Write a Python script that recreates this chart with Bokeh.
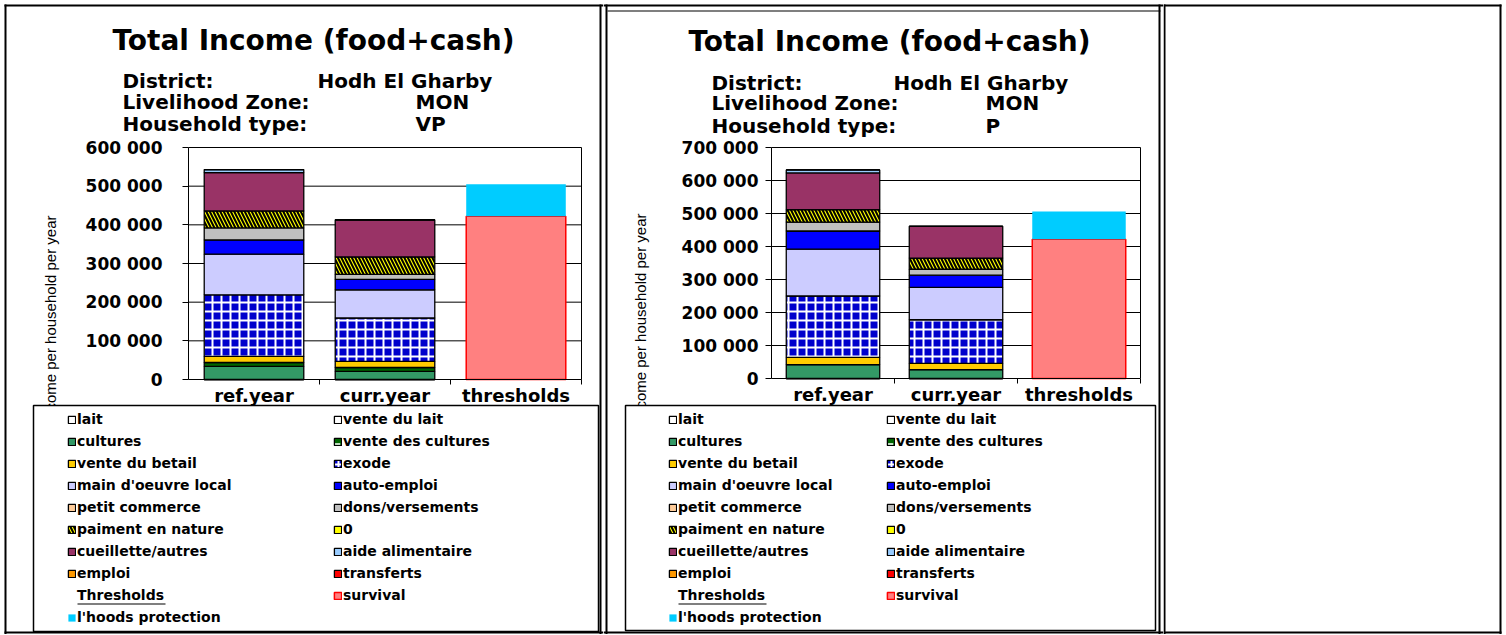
import math
from bokeh.plotting import figure
from bokeh.models import (ColumnDataSource, Range1d, FixedTicker, Label,
                          BoxAnnotation, Legend, LegendItem)
from bokeh.layouts import row
from bokeh.embed import file_html
from bokeh.resources import INLINE

# ---------------- data ----------------
categories = ["ref.year", "curr.year"]
threshold_category = ["thresholds"]
all_categories = ["ref.year", "curr.year", "thresholds"]

series = ["lait", "vente du lait", "cultures", "vente des cultures", "vente du betail",
          "exode", "main d'oeuvre local", "auto-emploi", "petit commerce",
          "dons/versements", "paiment en nature", "0", "cueillette/autres",
          "aide alimentaire", "emploi", "transferts"]
threshold_series = ["survival", "l'hoods protection"]

# Household type VP
vp_ref = [0, 0, 34000, 10000, 16000, 159000, 105000, 37000, 0, 31000, 44000, 0, 99000, 8000, 0, 0]
vp_curr = [0, 0, 21000, 10000, 16000, 112000, 73000, 27000, 0, 13000, 45000, 0, 96000, 0, 0, 0]
vp_survival = [422000]
vp_protection = [83000]
vp_ticks = [0, 100000, 200000, 300000, 400000, 500000, 600000]
vp_tick_labels = ["0", "100 000", "200 000", "300 000", "400 000", "500 000", "600 000"]

# Household type P
p_ref = [0, 0, 42000, 0, 22000, 186000, 142000, 55000, 0, 27000, 38000, 0, 111000, 9000, 0, 0]
p_curr = [0, 0, 27000, 0, 19000, 132000, 98000, 37000, 0, 18000, 34000, 0, 96000, 0, 0, 0]
p_survival = [422000]
p_protection = [84000]
p_ticks = [0, 100000, 200000, 300000, 400000, 500000, 600000, 700000]
p_tick_labels = ["0", "100 000", "200 000", "300 000", "400 000", "500 000", "600 000", "700 000"]

title_text = "Total Income (food+cash)"
district_text = ["District:", "Hodh El Gharby"]
zone_text = ["Livelihood Zone:", "MON"]
hh_label = "Household type:"
y_label_text = "Income per household per year"
thresholds_heading = "Thresholds"

# ---------------- styles ----------------
fill_colors = ["#FFFFFF", "#FFFFFF", "#339966", "#006600", "#FFCC00", "#0000CC", "#CCCCFF",
               "#0000FF", "#FFCC99", "#C0C0C0", "#FFFF00", "#FFFF00", "#993366", "#99CCFF",
               "#FF9900", "#FF0000"]
hatch_patterns = ["blank", "blank", "blank", "horizontal_dash", "blank", "cross", "blank",
                  "blank", "blank", "blank", "left_diagonal_line", "blank", "blank", "blank",
                  "blank", "blank"]
hatch_colors = ["white"] * 10 + ["black"] + ["white"] * 5
hatch_scales = [8, 8, 8, 12, 8, 9, 8, 8, 8, 8, 7, 8, 8, 8, 8, 8]
hatch_weights = [1, 1, 1, 1.5, 1, 2, 1, 1, 1, 1, 2, 1, 1, 1, 1, 1]

H = 634
FONT = "DejaVu Sans"


def build_panel(ref_vals, curr_vals, surv, prot, ticks, tick_labels, hh_type, g):
    W, fl, fw, ft, fh = g["W"], g["fl"], g["fw"], g["ft"], g["fh"]
    ncat = len(all_categories)
    ymax = ticks[-1]
    unit = fw / ncat

    def X(cx):  # canvas pixel -> data x
        return (cx - fl) / unit

    def Y(cy):  # canvas pixel -> data y
        return (ft + fh - cy) * ymax / fh

    p = figure(width=W, height=H, x_range=Range1d(X(0), X(W)), y_range=Range1d(Y(H), Y(0)),
               min_border=0, toolbar_location=None, output_backend="svg", title=None)
    p.background_fill_color = "white"
    p.border_fill_color = "white"
    p.outline_line_color = None

    # grid lines and right frame edge (under the bars)
    p.segment(x0=0, x1=ncat, y0=ticks[1:], y1=ticks[1:], line_color="black",
              line_width=1, level="underlay")
    p.segment(x0=[ncat], x1=[ncat], y0=[0], y1=[ymax], line_color="black",
              line_width=1, level="underlay")

    xpos = [i + 0.5 for i in range(len(categories))]
    src = ColumnDataSource(data={"cat": categories, "x": xpos,
                                 **{s: [ref_vals[i], curr_vals[i]] for i, s in enumerate(series)}})
    rs = p.vbar_stack(series, x="x", width=0.76, source=src,
                      fill_color=fill_colors, line_color="black", line_width=1.3,
                      hatch_pattern=hatch_patterns, hatch_color=hatch_colors,
                      hatch_scale=hatch_scales, hatch_weight=hatch_weights)
    tsrc = ColumnDataSource(data={"cat": threshold_category,
                                  "x": [len(categories) + 0.5],
                                  threshold_series[0]: surv, threshold_series[1]: prot})
    trs = p.vbar_stack(threshold_series, x="x", width=0.76, source=tsrc,
                       fill_color=["#FF8080", "#00CCFF"], line_color=["#FF0000", "#00CCFF"],
                       line_alpha=[1, 0], line_width=1.5)
    dummy = p.vbar(x=[], top=[], width=0.5, fill_alpha=0, line_alpha=0)

    # axes at fixed locations inside the frame
    yt = FixedTicker(ticks=ticks)
    ya = p.yaxis[0]
    ya.fixed_location = 0
    ya.bounds = (0, ymax)
    ya.ticker = yt
    ya.major_label_overrides = dict(zip(ticks, tick_labels))
    ya.major_label_text_font = FONT
    ya.major_label_text_font_style = "bold"
    ya.major_label_text_font_size = "17px"
    ya.major_label_text_color = "black"
    ya.major_tick_out = 6
    ya.major_tick_in = 0
    ya.minor_tick_line_color = None
    ya.major_label_standoff = g["ystand"]
    ya.axis_line_color = "black"
    ya.major_tick_line_color = "black"

    xcenters = [i + 0.5 for i in range(ncat)]
    xa = p.xaxis[0]
    xa.fixed_location = 0
    xa.bounds = (0, ncat)
    xa.ticker = FixedTicker(ticks=xcenters, minor_ticks=list(range(1, ncat + 1)))
    xa.major_label_overrides = dict(zip(xcenters, all_categories))
    xa.major_label_text_font = FONT
    xa.major_label_text_font_style = "bold"
    xa.major_label_text_font_size = "18px"
    xa.major_label_text_color = "black"
    xa.major_tick_line_color = None
    xa.major_tick_out = 0
    xa.minor_tick_out = 5
    xa.minor_tick_in = 0
    xa.minor_tick_line_color = "black"
    xa.major_label_standoff = 0
    xa.axis_line_color = "black"
    p.grid.visible = False

    def text(cx, cy, t, size, bold=True, align="left", angle=0, font=FONT):
        p.add_layout(Label(x=X(cx), y=Y(cy), text=t, text_font=font, text_font_size=size,
                           text_font_style="bold" if bold else "normal",
                           text_align=align, text_baseline="middle", angle=angle,
                           text_color="black"))

    def box(l, r, t, b, fill="black", line=None, lw=1):
        p.add_layout(BoxAnnotation(left=X(l), right=X(r), top=Y(t), bottom=Y(b),
                                   fill_color=fill if fill else "white",
                                   fill_alpha=1 if fill else 0,
                                   line_color=line if line else "black",
                                   line_alpha=1 if line else 0, line_width=lw,
                                   level="annotation"))

    text(g["tx"], g["ty"], title_text, "28px", align="center")
    text(g["sx1"], g["sy"][0], district_text[0], "20px")
    text(g["sx2"], g["sy"][0], district_text[1], "20px")
    text(g["sx1"], g["sy"][1], zone_text[0], "20px")
    text(g["sx3"], g["sy"][1], zone_text[1], "20px")
    text(g["sx1"], g["sy"][2], hh_label, "20px")
    text(g["sx3"], g["sy"][2], hh_type, "20px")
    # y axis title, its start hidden behind the legend box as in the original
    text(g["ylx"], g["yly"], y_label_text, "15px", bold=False, align="right",
         angle=math.pi / 2, font="Liberation Sans")

    lb = g["lbox"]
    box(lb[0], lb[1], lb[2], lb[3], fill="white", line="black", lw=1.5)

    items = [LegendItem(label=s, renderers=[r]) for s, r in zip(series, rs)]
    items += [LegendItem(label=thresholds_heading, renderers=[dummy]),
              LegendItem(label=threshold_series[0], renderers=[trs[0]]),
              LegendItem(label=threshold_series[1], renderers=[trs[1]])]
    pad, lh = 3, 22
    nrows = (len(items) + 1) // 2
    leg_h = 2 * pad + nrows * lh
    leg_left = g["gx"] - pad
    leg_top = lb[2]
    legend = Legend(items=items, location=(leg_left, H - (leg_top + leg_h)),
                    orientation="horizontal", ncols=2, glyph_width=9, glyph_height=9,
                    label_standoff=1, label_width=g["colw"] - 10, label_height=lh,
                    spacing=0, padding=pad, margin=0, border_line_alpha=0,
                    background_fill_alpha=0, label_text_font=FONT,
                    label_text_font_style="bold",
                    label_text_font_size="14px", label_text_color="black",
                    label_text_baseline="middle")
    p.add_layout(legend)
    uy = leg_top + pad + 8 * lh + lh / 2 + 8
    box(g["gx"] + 10, g["gx"] + 98, uy, uy + 1)

    for b in g["borders"]:
        box(*b)
    return p


gA = dict(W=603, fl=188, fw=393, ft=147, fh=232, ystand=20,
          tx=313, ty=40, sx1=122, sx2=317, sx3=415, sy=[80, 101, 123],
          ylx=50, yly=215, lbox=(33, 598, 405, 631), gx=67, colw=266,
          borders=[(4, 6, 4, H), (4, 603, 4, 6), (4, 603, 631, 633), (599, 601, 4, H)])
gB = dict(W=560, fl=168, fw=369, ft=147, fh=231, ystand=7,
          tx=286, ty=41, sx1=108, sx2=290, sx3=382, sy=[82, 102, 125],
          ylx=37, yly=213, lbox=(22, 552, 405, 630), gx=65, colw=218,
          borders=[(0, 560, 4, 6), (4, 557, 10, 11), (2, 4, 4, H), (555, 557, 4, H),
                   (0, 560, 631, 633)])

pA = build_panel(vp_ref, vp_curr, vp_survival, vp_protection, vp_ticks, vp_tick_labels, "VP", gA)
pB = build_panel(p_ref, p_curr, p_survival, p_protection, p_ticks, p_tick_labels, "P", gB)

WC = 342
pC = figure(width=WC, height=H, x_range=Range1d(0, WC), y_range=Range1d(H, 0),
            toolbar_location=None, output_backend="svg", title=None, min_border=0)
pC.axis.visible = False
pC.grid.visible = False
pC.outline_line_color = None
for (l, r, t, b) in [(0, 2, 4, H), (0, 338, 4, 6), (0, 338, 631, 633), (336, 338, 4, H)]:
    pC.add_layout(BoxAnnotation(left=l, right=r, top=t, bottom=b, fill_color="black",
                                fill_alpha=1, line_alpha=0))

layout = row(pA, pB, pC, spacing=0)
open("out.html", "w").write(file_html(layout, INLINE))
